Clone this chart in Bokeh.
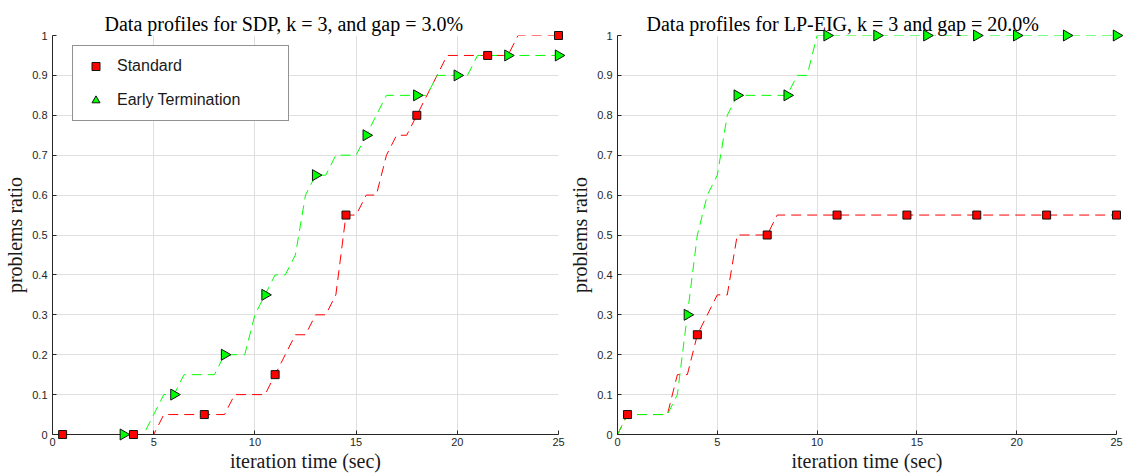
import numpy as np
from bokeh.plotting import figure
from bokeh.models import (Range1d, FixedTicker, CustomJSTickFormatter, Legend,
                          LegendItem, Title)
from bokeh.layouts import row
from bokeh.embed import file_html
from bokeh.resources import INLINE

# ---------------- data ----------------
# Left panel: SDP, k = 3, gap = 3.0%
sdp_std_t = [0, 5, 5.5, 8.5, 9, 10.5, 12, 12.5, 13, 13.5, 14, 14.5, 15, 15.5,
             16, 16.5, 17, 17.5, 18, 19.5, 22.5, 23, 25]
sdp_std_r = [0, 0, 0.05, 0.05, 0.1, 0.1, 0.25, 0.25, 0.3, 0.3, 0.35, 0.55, 0.55,
             0.6, 0.6, 0.7, 0.75, 0.75, 0.8, 0.95, 0.95, 1.0, 1.0]
sdp_std_mark_t = [0.5, 4, 7.5, 11, 14.5, 18, 21.5, 25]
sdp_std_mark_r = [0, 0, 0.05, 0.15, 0.55, 0.8, 0.95, 1.0]

sdp_et_t = [0, 4.5, 5.5, 6, 6.5, 8, 8.5, 9.5, 10, 11, 11.5, 12, 12.5, 13, 13.5,
            14, 15, 16.5, 18.5, 19, 20.5, 21, 25]
sdp_et_r = [0, 0, 0.1, 0.1, 0.15, 0.15, 0.2, 0.2, 0.3, 0.4, 0.4, 0.45, 0.6, 0.65,
            0.65, 0.7, 0.7, 0.85, 0.85, 0.9, 0.9, 0.95, 0.95]
sdp_et_mark_t = [3.5, 6, 8.5, 10.5, 13, 15.5, 18, 20, 22.5, 25]
sdp_et_mark_r = [0, 0.1, 0.2, 0.35, 0.65, 0.75, 0.85, 0.9, 0.95, 0.95]

# Right panel: LP-EIG, k = 3, gap = 20.0%
lp_std_t = [0, 0.5, 2.5, 3.0, 3.5, 4.0, 5.0, 5.5, 6.0, 7.5, 8.0, 25]
lp_std_r = [0, 0.05, 0.05, 0.15, 0.15, 0.25, 0.35, 0.35, 0.5, 0.5, 0.55, 0.55]
lp_std_mark_t = [0.5, 4, 7.5, 11, 14.5, 18, 21.5, 25]
lp_std_mark_r = [0.05, 0.25, 0.5, 0.55, 0.55, 0.55, 0.55, 0.55]

lp_et_t = [0, 0.5, 2.5, 3.0, 3.5, 4.0, 4.5, 5.0, 5.5, 6.0, 8.5, 9.0, 9.5, 10.0, 25]
lp_et_r = [0, 0.05, 0.05, 0.1, 0.3, 0.5, 0.6, 0.65, 0.8, 0.85, 0.85, 0.9, 0.9,
           1.0, 1.0]
lp_et_mark_t = [3.5, 6, 8.5, 10.5, 13, 15.5, 18, 20, 22.5, 25]
lp_et_mark_r = [0.3, 0.85, 0.85, 1.0, 1.0, 1.0, 1.0, 1.0, 1.0, 1.0]

x_ticks = [0, 5, 10, 15, 20, 25]
y_ticks = [0, 0.1, 0.2, 0.3, 0.4, 0.5, 0.6, 0.7, 0.8, 0.9, 1.0]

titles = ["Data profiles for SDP, k = 3, and gap = 3.0%",
          "Data profiles for LP-EIG, k = 3 and gap = 20.0%"]
legend_labels = ["Standard", "Early Termination"]

# ---------------- styling ----------------
AX = "#262626"
GRID = "#dfdfdf"
RED = "#ff0000"
GREEN = "#00ff00"
SERIF = "Liberation Serif"
SANS = "Liberation Sans"


def make_panel(title, title_off, std, et, width, bl, br, with_legend):
    p = figure(width=width, height=476, output_backend="svg",
               toolbar_location=None,
               x_range=Range1d(0, 25), y_range=Range1d(0, 1),
               min_border_left=bl, min_border_right=br,
               min_border_top=35, min_border_bottom=42)
    p.title = Title(text=title, align="left", offset=title_off,
                    vertical_align="middle", standoff=0,
                    text_font=SERIF, text_font_size="20px",
                    text_font_style="normal", text_color="#000000")
    p.outline_line_color = None
    p.background_fill_color = "white"
    p.border_fill_color = "white"

    for ax in (p.xaxis[0], p.yaxis[0]):
        ax.axis_line_color = AX
        ax.major_tick_line_color = AX
        ax.major_tick_in = 4
        ax.major_tick_out = 0
        ax.minor_tick_line_color = None
        ax.major_label_text_font = SANS
        ax.major_label_text_font_size = "11px"
        ax.major_label_text_color = AX
        ax.axis_label_text_font = SERIF
        ax.axis_label_text_font_size = "20px"
        ax.axis_label_text_font_style = "normal"
        ax.axis_label_text_color = "#1a1a1a"

    p.xaxis.ticker = FixedTicker(ticks=x_ticks)
    p.yaxis.ticker = FixedTicker(ticks=y_ticks)
    p.yaxis.formatter = CustomJSTickFormatter(
        code="return String(Math.round(tick*10)/10);")
    p.xaxis.axis_label = "iteration time (sec)"
    p.yaxis.axis_label = "problems ratio"
    p.xaxis.major_label_standoff = 3
    p.xaxis.axis_label_standoff = 1
    p.yaxis.major_label_standoff = 5
    p.yaxis.axis_label_standoff = 3

    p.xgrid.grid_line_color = GRID
    p.ygrid.grid_line_color = GRID

    (st, sr, smt, smr), (et_t, et_r, emt, emr) = std, et
    p.line(st, sr, line_color=RED, line_width=1, line_dash="10 6")
    p.line(et_t, et_r, line_color=GREEN, line_width=1, line_dash="10 6")
    rm = p.scatter(smt, smr, marker="square", size=8, fill_color=RED,
                   line_color="#111111", line_width=1, level="overlay")
    gm = p.scatter(emt, emr, marker="triangle", size=11, angle=-np.pi / 2,
                   fill_color=GREEN, line_color="#111111", line_width=1,
                   level="overlay")

    if with_legend:
        leg = Legend(items=[LegendItem(label=legend_labels[0], renderers=[rm]),
                            LegendItem(label=legend_labels[1], renderers=[gm])],
                     location=(20, 313), orientation="vertical",
                     padding=10, spacing=14, margin=0,
                     glyph_width=25, glyph_height=20, label_height=20,
                     label_width=161, label_standoff=9,
                     label_text_font=SANS, label_text_font_size="16px",
                     label_text_color="#1a1a1a",
                     border_line_color=AX, border_line_width=1,
                     background_fill_color="white", background_fill_alpha=1)
        p.add_layout(leg, "center")
    return p


left = make_panel(titles[0], 52,
                  (sdp_std_t, sdp_std_r, sdp_std_mark_t, sdp_std_mark_r),
                  (sdp_et_t, sdp_et_r, sdp_et_mark_t, sdp_et_mark_r),
                  566, 52, 8, True)
right = make_panel(titles[1], 29,
                   (lp_std_t, lp_std_r, lp_std_mark_t, lp_std_mark_r),
                   (lp_et_t, lp_et_r, lp_et_mark_t, lp_et_mark_r),
                   557, 45, 7, False)

layout = row(left, right, spacing=0)
open("out.html", "w").write(file_html(layout, INLINE))
